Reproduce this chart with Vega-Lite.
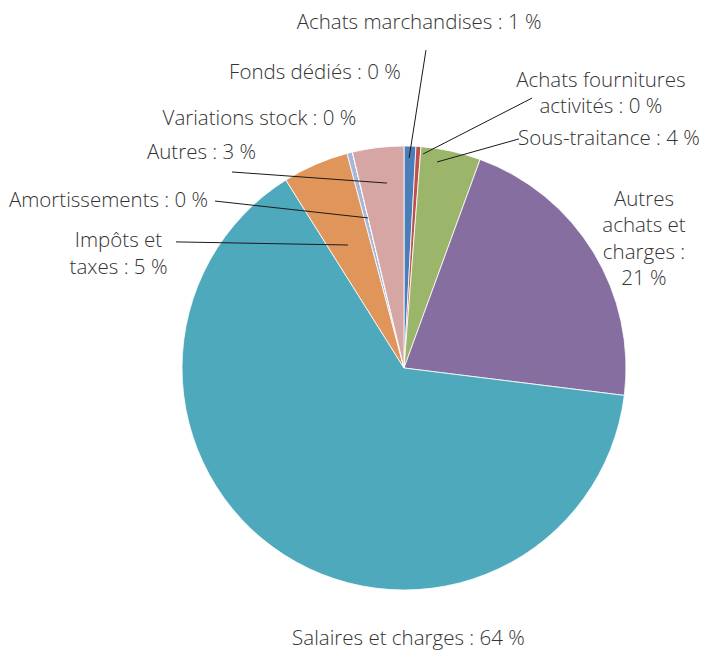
{
  "$schema": "https://vega.github.io/schema/vega-lite/v6.json",
  "width": 444,
  "height": 444,
  "autosize": {"type": "none"},
  "padding": {"left": 182, "top": 146, "right": 81, "bottom": 61},
  "background": "white",
  "config": {"view": {"stroke": null}},
  "datasets": {
    "postes": [
      {"poste": "Achats marchandises", "part": 0.86, "rang": 1},
      {"poste": "Achats fournitures activités", "part": 0.36, "rang": 2},
      {"poste": "Sous-traitance", "part": 4.35, "rang": 3},
      {"poste": "Autres achats et charges", "part": 21.4, "rang": 4},
      {"poste": "Salaires et charges", "part": 64.1, "rang": 5},
      {"poste": "Impôts et taxes", "part": 4.8, "rang": 6},
      {"poste": "Amortissements", "part": 0.4, "rang": 7},
      {"poste": "Variations stock", "part": 0, "rang": 8},
      {"poste": "Fonds dédiés", "part": 0, "rang": 9},
      {"poste": "Autres", "part": 3.73, "rang": 10}
    ],
    "etiquettes": [
      {"texte": "Achats marchandises : 1 %", "u": 6.8, "v": -155.4},
      {"texte": "Fonds dédiés : 0 %", "u": -40.1, "v": -132.9},
      {"texte": "Achats fournitures\nactivités : 0 %", "u": 88.7, "v": -129.3},
      {"texte": "Sous-traitance : 4 %", "u": 92.3, "v": -103.2},
      {"texte": "Autres\nachats et\ncharges :\n21 %", "u": 108.1, "v": -75.7},
      {"texte": "Salaires et charges : 64 %", "u": 2.0, "v": 122.1},
      {"texte": "Variations stock : 0 %", "u": -65.1, "v": -112.2},
      {"texte": "Autres : 3 %", "u": -91.2, "v": -96.8},
      {"texte": "Amortissements : 0 %", "u": -133.1, "v": -75.2},
      {"texte": "Impôts et\ntaxes : 5 %", "u": -128.6, "v": -57.2}
    ],
    "renvois": [
      {"u": 9.9, "v": -143.2, "u2": 2.3, "v2": -94.6},
      {"u": 57.7, "v": -121.6, "u2": 8.6, "v2": -96.4},
      {"u": 51.8, "v": -103.2, "u2": 14.9, "v2": -92.8},
      {"u": -77.5, "v": -88.3, "u2": -7.7, "v2": -83.3},
      {"u": -85.1, "v": -75.2, "u2": -16.2, "v2": -67.6},
      {"u": -102.7, "v": -56.8, "u2": -25.2, "v2": -55.4}
    ]
  },
  "layer": [
    {
      "data": {"name": "postes"},
      "mark": {"type": "arc", "stroke": "white", "strokeWidth": 0.8},
      "encoding": {
        "theta": {"field": "part", "type": "quantitative", "stack": true},
        "order": {"field": "rang", "type": "quantitative"},
        "color": {
          "field": "poste",
          "type": "nominal",
          "legend": null,
          "scale": {
            "domain": ["Achats marchandises", "Achats fournitures activités", "Sous-traitance", "Autres achats et charges", "Salaires et charges", "Impôts et taxes", "Amortissements", "Variations stock", "Fonds dédiés", "Autres"],
            "range": ["#4A7EB9", "#C0504D", "#9BB66A", "#866FA0", "#4FA9BD", "#E0965A", "#A5B8D8", "#8FA9CF", "#C98B8A", "#D6A6A5"]
          }
        }
      }
    },
    {
      "data": {"name": "renvois"},
      "mark": {"type": "rule", "color": "#1a1a1a", "strokeWidth": 1},
      "encoding": {
        "x": {"field": "u", "type": "quantitative", "scale": {"domain": [-100, 100], "nice": false, "zero": false}, "axis": null},
        "y": {"field": "v", "type": "quantitative", "scale": {"domain": [-100, 100], "nice": false, "zero": false, "reverse": true}, "axis": null},
        "x2": {"field": "u2"},
        "y2": {"field": "v2"}
      }
    },
    {
      "data": {"name": "etiquettes"},
      "mark": {"type": "text", "font": "Open Sans", "fontWeight": 300, "fontSize": 20.5, "color": "#333333", "lineBreak": "\n", "lineHeight": 26.5, "align": "center", "baseline": "middle"},
      "encoding": {
        "x": {"field": "u", "type": "quantitative", "scale": {"domain": [-100, 100], "nice": false, "zero": false}, "axis": null},
        "y": {"field": "v", "type": "quantitative", "scale": {"domain": [-100, 100], "nice": false, "zero": false, "reverse": true}, "axis": null},
        "text": {"field": "texte", "type": "nominal"}
      }
    }
  ]
}
